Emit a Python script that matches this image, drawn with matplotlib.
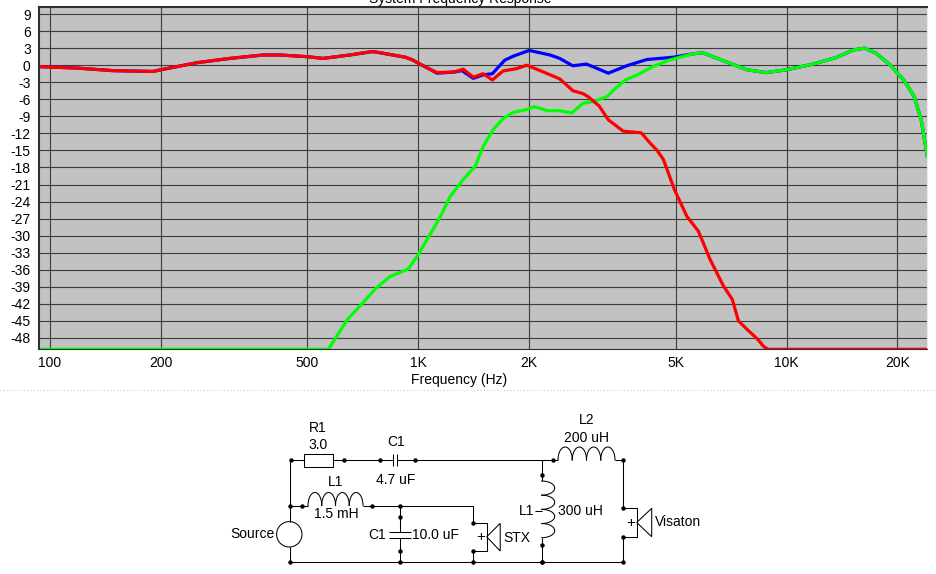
import numpy as np
import matplotlib
matplotlib.use("Agg")
import matplotlib.pyplot as plt
from matplotlib.patches import Rectangle, Circle, Polygon

plt.rcParams["font.family"] = ["Liberation Sans", "DejaVu Sans"]

# ---- data (Hz, dB) ----
total_freq = [94, 118, 148, 190, 200, 251, 308, 379, 421, 500, 551, 652, 750, 787,
              923, 967, 1000, 1060, 1124, 1250, 1313, 1410, 1499, 1589, 1640, 1718,
              1812, 2000, 2280, 2420, 2627, 2860, 2990, 3280, 3680, 4170, 4920, 5560,
              5920, 6850, 7800, 8800, 10000, 11800, 13700, 15200, 16300, 17500, 19100,
              20800, 22200, 23200, 24100]
total_db = [-0.25, -0.5, -0.95, -1.1, -0.8, 0.45, 1.2, 1.8, 1.8, 1.5, 1.2, 1.8, 2.4, 2.2,
            1.4, 0.9, 0.35, -0.5, -1.4, -1.2, -0.95, -2.3, -1.7, -1.5, -0.5, 0.9,
            1.6, 2.6, 1.8, 1.2, -0.1, 0.2, -0.3, -1.4, -0.1, 1.0, 1.4, 2.0,
            2.2, 0.6, -0.8, -1.3, -0.8, 0.2, 1.4, 2.7, 3.0, 2.1, 0.05,
            -2.6, -5.5, -9.6, -16.0]

woofer_freq = [94, 118, 148, 190, 200, 251, 308, 379, 421, 500, 551, 652, 750, 787,
               923, 967, 1000, 1060, 1124, 1250, 1325, 1410, 1500, 1589, 1700, 1850,
               1970, 2170, 2420, 2630, 2800, 2900, 3100, 3280, 3600, 4030, 4260, 4450,
               4630, 4960, 5360, 5760, 6200, 6730, 7120, 7400, 7870, 8340, 8660, 8900,
               24100]
woofer_db = [-0.25, -0.5, -0.95, -1.1, -0.8, 0.45, 1.2, 1.8, 1.8, 1.5, 1.2, 1.8, 2.4, 2.2,
             1.4, 0.9, 0.35, -0.5, -1.3, -1.2, -0.7, -2.1, -1.5, -2.6, -1.0, -0.6,
             0.0, -1.1, -2.4, -4.5, -5.0, -5.6, -7.2, -9.6, -11.6, -11.9, -13.7, -15.0,
             -16.6, -21.9, -26.6, -29.2, -34.2, -38.8, -41.2, -45.0, -46.7, -48.2, -49.5, -50,
             -50]

tweeter_freq = [94, 570, 643, 708, 763, 837, 938, 994, 1076, 1145, 1221, 1325, 1427,
                1500, 1595, 1700, 1810, 1970, 2070, 2240, 2420, 2610, 2800, 2990, 3260,
                3400, 3650, 3930, 4330, 4800, 5560, 5920, 6850, 7800, 8800, 10000, 11800,
                13700, 15200, 16300, 17500, 19100, 20800, 22200, 23200, 24100]
tweeter_db = [-50, -50, -44.7, -41.8, -39.4, -37.2, -35.9, -33.6, -29.8, -26.8, -23.1, -20.1, -17.8,
              -14.3, -11.4, -9.4, -8.3, -7.8, -7.3, -8.0, -8.0, -8.4, -6.7, -6.4, -5.5,
              -4.3, -2.6, -1.7, -0.25, 0.9, 2.0, 2.2, 0.6, -0.8, -1.3, -0.8, 0.2,
              1.4, 2.7, 3.0, 2.1, 0.05, -2.6, -5.5, -9.6, -16.0]

x_ticks = [100, 200, 500, 1000, 2000, 5000, 10000, 20000]
x_tick_labels = ["100", "200", "500", "1K", "2K", "5K", "10K", "20K"]
y_ticks = list(range(-48, 10, 3))

W, H = 936, 574
fig = plt.figure(figsize=(W / 100, H / 100), dpi=100)
fig.patch.set_facecolor("white")

# ---- schematic (pixel coordinates) ----
sch = fig.add_axes([0, 0, 1, 1])
sch.set_xlim(0, W); sch.set_ylim(H, 0); sch.axis("off"); sch.patch.set_visible(False)
LW = 0.75


def wire(xs, ys):
    sch.plot(xs, ys, color="black", lw=LW, solid_capstyle="butt")


def dots(pts):
    for x, y in pts:
        sch.plot(x, y, "o", color="black", ms=3.2, mew=0)


def coil_h(x0, x1, y, h, n=4):
    w = (x1 - x0) / n
    t = np.linspace(0, np.pi, 30)
    for i in range(n):
        xs = x0 + i * w + w / 2 * (1 - np.cos(t))
        sch.plot(xs, y - h * np.sin(t), color="black", lw=LW)


def coil_v(x, y0, y1, h, n=4):
    w = (y1 - y0) / n
    t = np.linspace(0, np.pi, 30)
    for i in range(n):
        ys = y0 + i * w + w / 2 * (1 - np.cos(t))
        sch.plot(x + h * np.sin(t), ys, color="black", lw=LW)


def speaker(x, ytop, ybot, box_w, cone_w, ctop, cbot):
    ymid = (ytop + ybot) / 2
    wire([x, x + box_w, x + box_w, x], [ytop, ytop, ybot, ybot])
    sch.add_patch(Polygon([[x + box_w, ymid], [x + box_w + cone_w, ctop], [x + box_w + cone_w, cbot]],
                          closed=True, fill=False, ec="black", lw=LW))
    sch.text(x + box_w / 2 + 0.5, ymid, "+", ha="center", va="center", fontsize=11)


FS = 10
# separator
sch.plot([0, W], [390, 390], color="#d6ccb8", lw=0.8, ls=(0, (1, 2)))

# top branch: R1 - C1 - junction - L2
wire([290, 290], [460, 521.5])
wire([290, 304], [460, 460])
sch.add_patch(Rectangle((304, 454.3), 29, 12.4, fill=False, ec="black", lw=LW))
wire([333, 392.5], [460, 460])
wire([392.5, 392.5], [454, 466]); wire([397, 397], [454, 466])
wire([397, 558], [460, 460])
coil_h(558, 615, 460, 13)
wire([615, 623.3, 623.3], [460, 460, 508.3])
dots([(291, 460), (344.3, 460), (380, 460), (415, 460), (553.3, 460), (623.3, 460)])
sch.text(318, 428, "R1", ha="center", va="center", fontsize=FS)
sch.text(318, 445, "3.0", ha="center", va="center", fontsize=FS)
sch.text(396, 442, "C1", ha="center", va="center", fontsize=FS)
sch.text(396, 480, "4.7 uF", ha="center", va="center", fontsize=FS)
sch.text(587, 420, "L2", ha="center", va="center", fontsize=FS)
sch.text(587, 437.5, "200 uH", ha="center", va="center", fontsize=FS)

# second branch: L1 1.5 mH - C1 10 uF - STX
wire([290, 308], [505.5, 505.5])
coil_h(308, 363, 505.5, 13)
wire([363, 472.7, 472.7], [505.5, 505.5, 522.5])
dots([(290, 505.5), (301.7, 505.5), (371.7, 505.5), (400, 505.5)])
sch.text(336, 482, "L1", ha="center", va="center", fontsize=FS)
sch.text(336, 514.5, "1.5 mH", ha="center", va="center", fontsize=FS)

wire([400, 400], [505.5, 531.5])
wire([389.3, 410.7], [531.5, 531.5]); wire([389.3, 410.7], [537.7, 537.7])
wire([400, 400], [537.7, 561.7])
dots([(400, 516.7), (400, 551), (400, 561.7)])
sch.text(386, 535, "C1", ha="right", va="center", fontsize=FS)
sch.text(412, 535, "10.0 uF", ha="left", va="center", fontsize=FS)

speaker(472.7, 522.7, 551, 14, 13.5, 523.3, 551)
wire([472.7, 472.7], [551, 561.7])
dots([(472.7, 522.7), (472.7, 551), (472.7, 561.7)])
sch.text(503.5, 537.5, "STX", ha="left", va="center", fontsize=FS)

# shunt L1 300 uH
wire([541.7, 541.7], [460, 481])
coil_v(541.7, 481, 537.7, 13)
wire([541.7, 541.7], [537.7, 561.7])
dots([(541.7, 475), (541.7, 545), (541.7, 561.7)])
wire([535, 541.7], [510.5, 510.5])
sch.text(534, 511, "L1", ha="right", va="center", fontsize=FS)
sch.text(558.5, 511, "300 uH", ha="left", va="center", fontsize=FS)

# tweeter
speaker(623.3, 508.3, 536.7, 13.4, 15, 508.3, 536.7)
wire([623.3, 623.3], [536.7, 561.7])
dots([(623.3, 508.3), (623.3, 536.7), (623.3, 561.7)])
sch.text(655, 522, "Visaton", ha="left", va="center", fontsize=FS)

# source and ground
sch.add_patch(Circle((289.3, 534.3), 12.7, fill=False, ec="black", lw=LW))
wire([290, 290, 623.3], [547, 561.7, 561.7])
dots([(290, 561.7), (541.7, 561.7)])
sch.text(274.5, 534.5, "Source", ha="right", va="center", fontsize=FS)

# ---- frequency response chart ----
x0, x1, y0, y1 = 39, 927, 6.7, 349.3
ax = fig.add_axes([x0 / W, 1 - y1 / H, (x1 - x0) / W, (y1 - y0) / H])
ax.set_facecolor("#c2c2c2")
ax.set_xscale("log")
ax.set_xlim(93.35, 24057)
ax.set_ylim(-50, 10.3)
ax.set_xticks(x_ticks)
ax.set_xticklabels(x_tick_labels)
ax.xaxis.set_minor_locator(matplotlib.ticker.NullLocator())
ax.set_yticks(y_ticks)
ax.set_yticklabels([str(v) for v in y_ticks])
ax.tick_params(length=0, labelsize=10)
ax.tick_params(axis="y", pad=6)
ax.tick_params(axis="x", pad=4.5)
ax.grid(True, color="#3c3c3c", lw=0.8)
ax.set_axisbelow(True)
for side in ["left", "top", "bottom"]:
    ax.spines[side].set_color("#303030")
ax.spines["top"].set_linewidth(1.5)
ax.spines["left"].set_linewidth(1.5)
ax.spines["right"].set_color("#e8e8e8")

ax.plot(total_freq, total_db, color="#0000ff", lw=2.3)
ax.plot(tweeter_freq, tweeter_db, color="#00ff00", lw=2.3)
ax.plot(woofer_freq, woofer_db, color="#ff0000", lw=2.3)

fig.text(459 / W, 1 - 380 / H, "Frequency (Hz)", ha="center", va="center", fontsize=10)
fig.text(460 / W, 1 - 3 / H, "System Frequency Response", ha="center", va="baseline", fontsize=10)

fig.savefig("out.png", dpi=100)
